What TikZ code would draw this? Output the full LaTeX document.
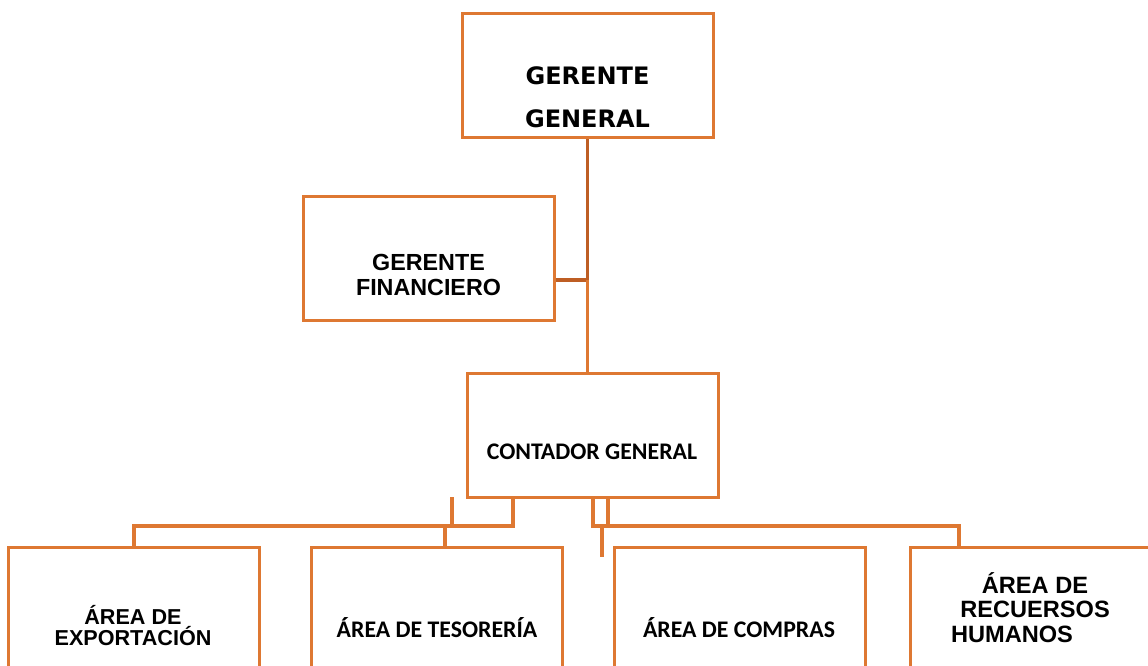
\documentclass[tikz,border=0pt]{standalone}
\usepackage{fontspec}
\setmainfont{Liberation Sans}
\newfontfamily\carlito{Carlito}
\newfontfamily\heavyfont{DejaVu Sans}
\definecolor{boxorange}{RGB}{222,120,50}
\definecolor{linkorange}{RGB}{222,120,50}
\definecolor{darkorange}{RGB}{190,94,36}

\begin{document}
\begin{tikzpicture}[x=1pt, y=-1pt,
    every node/.append style={inner sep=0pt, text=black, align=center},
    box/.style={draw=boxorange, line width=3pt, minimum width=251pt, minimum height=124pt}]
  \tikzstyle{link} = [draw=linkorange, line width=3.1pt]
  \tikzstyle{arial} = [font=\bfseries\fontsize{23.3}{25}\selectfont]
  \tikzstyle{calib} = [font=\carlito\bfseries\fontsize{23.8}{26}\selectfont]
  \clip (0,0) rectangle (1148,666);
  % boxes
  \node[box] (gg) at (587.5,76) {};
  \node[box] (gf) at (428.5,258) {};
  \node[box] (cg) at (592.5,435) {};
  \node[box] (exp) at (134,609) {};
  \node[box] (tes) at (436.5,609) {};
  \node[box] (com) at (739.5,609) {};
  \node[box] (rh) at (1035.5,609) {};
  % texts
  \node[font=\heavyfont\bfseries\fontsize{24}{43}\selectfont] (ggt) at (587.5,97) {GERENTE\\GENERAL};
  \node[arial] (gft) at (428.5,274.5) {GERENTE\\FINANCIERO};
  \node[calib] (cgt) at (592,452) {CONTADOR GENERAL};
  \node[arial, font=\bfseries\fontsize{21.6}{21}\selectfont] (expt) at (133,625.5) {ÁREA DE\\EXPORTACIÓN};
  \node[calib] (test) at (437,628) {ÁREA DE TESORERÍA};
  \node[calib] (comt) at (739,628) {ÁREA DE COMPRAS};
  \node[arial, font=\bfseries\fontsize{23.6}{24.5}\selectfont] (rht) at (1035,607.5)
    {ÁREA DE\\RECUERSOS\\HUMANOS\hspace*{46pt}};
  % connectors
  \coordinate (gfjoin) at (587.5,280);
  \draw[link, draw=darkorange, line width=3.5pt] (gg.south) -- (gfjoin);
  \draw[link, draw=darkorange] (gfjoin) -- (gfjoin -| gf.east);
  \draw[link] (gfjoin) -- (gfjoin |- cg.north);
  \coordinate (cgl) at (513,497);
  \coordinate (lbus) at (513,526);
  \coordinate (tesdrop) at (445,526);
  \coordinate (stub1) at (452,497);
  \draw[link] (cgl) -- (lbus) -- (lbus -| exp.north) -- (exp.north);
  \draw[link] (tesdrop) -- (tesdrop |- tes.north);
  \draw[link] (stub1) -- (stub1 |- lbus);
  \coordinate (cgr1) at (593,497);
  \coordinate (cgr2) at (608,497);
  \coordinate (rbus) at (959,526);
  \coordinate (stub2) at (602,526);
  \coordinate (stub2end) at (602,557);
  \draw[link] (cgr1) -- (cgr1 |- rbus) -- (rbus) -- (rbus |- rh.north);
  \draw[link] (cgr2) -- (cgr2 |- rbus);
  \draw[link] (stub2) -- (stub2end);
\end{tikzpicture}
\end{document}
